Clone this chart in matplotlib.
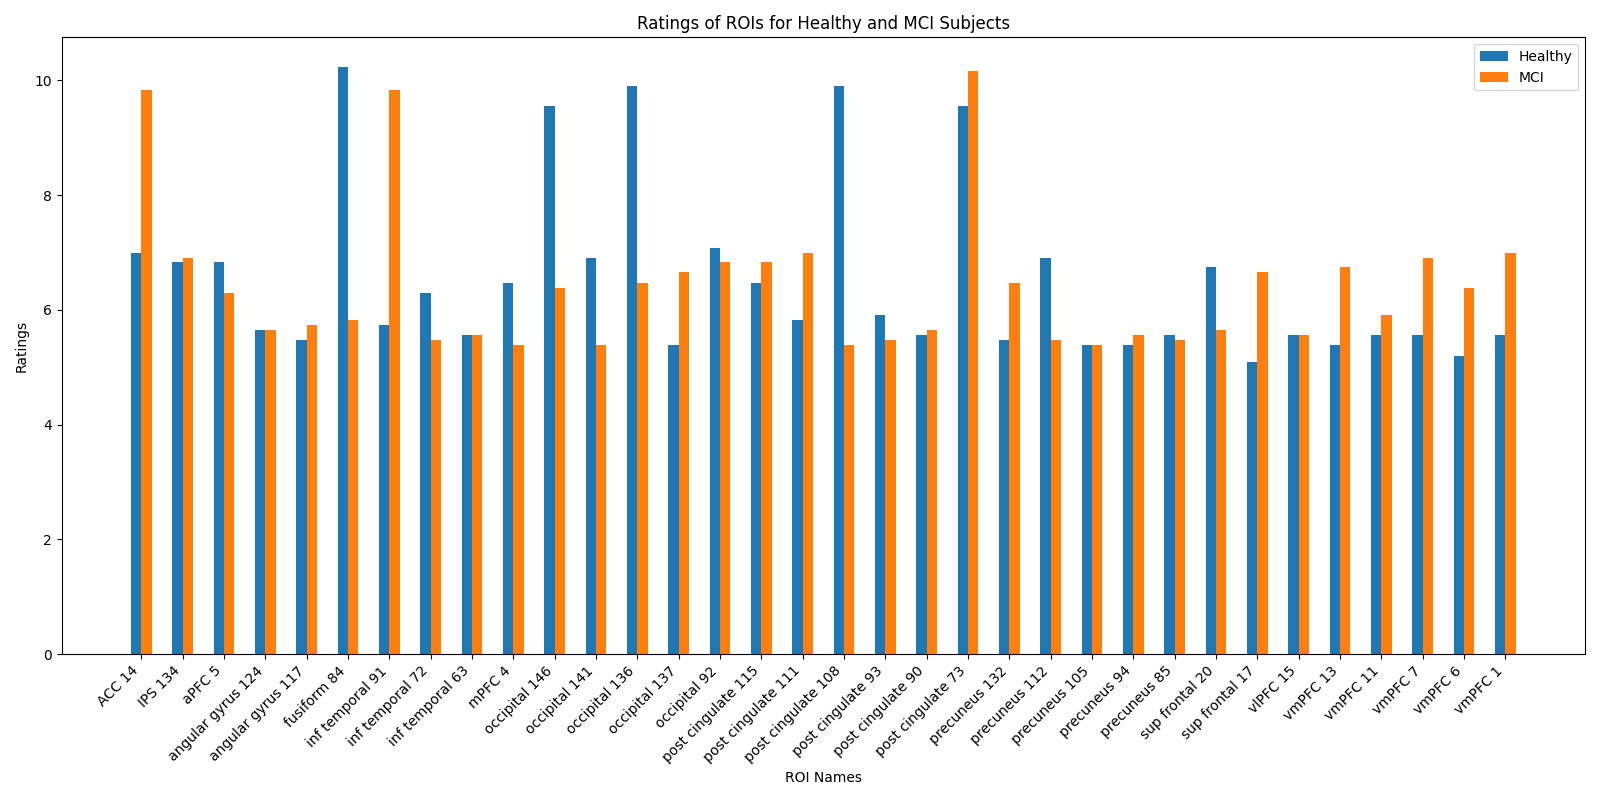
import matplotlib
matplotlib.use("Agg")
import matplotlib.pyplot as plt
import numpy as np

roi_names = ["ACC 14", "IPS 134", "aPFC 5", "angular gyrus 124", "angular gyrus 117",
             "fusiform 84", "inf temporal 91", "inf temporal 72", "inf temporal 63",
             "mPFC 4", "occipital 146", "occipital 141", "occipital 136", "occipital 137",
             "occipital 92", "post cingulate 115", "post cingulate 111", "post cingulate 108",
             "post cingulate 93", "post cingulate 90", "post cingulate 73", "precuneus 132",
             "precuneus 112", "precuneus 105", "precuneus 94", "precuneus 85",
             "sup frontal 20", "sup frontal 17", "vlPFC 15", "vmPFC 13", "vmPFC 11",
             "vmPFC 7", "vmPFC 6", "vmPFC 1"]

healthy = [7.00, 6.84, 6.84, 5.65, 5.48, 10.24, 5.74, 6.30, 5.56, 6.47, 9.56, 6.91,
           9.91, 5.39, 7.08, 6.47, 5.83, 9.91, 5.91, 5.56, 9.56, 5.48, 6.91, 5.39,
           5.39, 5.56, 6.75, 5.09, 5.56, 5.39, 5.56, 5.56, 5.20, 5.56]

mci = [9.84, 6.91, 6.30, 5.65, 5.74, 5.83, 9.84, 5.48, 5.56, 5.39, 6.38, 5.39,
       6.47, 6.66, 6.84, 6.84, 7.00, 5.39, 5.48, 5.65, 10.17, 6.47, 5.48, 5.39,
       5.56, 5.48, 5.65, 6.66, 5.56, 6.75, 5.91, 6.91, 6.38, 7.00]

x = np.arange(len(roi_names))
w = 0.25

fig, ax = plt.subplots(figsize=(16, 8), dpi=100)
ax.bar(x - w / 2, healthy, w, label="Healthy", color="#1f77b4")
ax.bar(x + w / 2, mci, w, label="MCI", color="#ff7f0e")
ax.set_xticks(x)
ax.set_xticklabels(roi_names, rotation=45, ha="right")
ax.set_xlabel("ROI Names")
ax.set_ylabel("Ratings")
ax.set_title("Ratings of ROIs for Healthy and MCI Subjects")
ax.legend()
fig.tight_layout()
fig.savefig("out.png")
